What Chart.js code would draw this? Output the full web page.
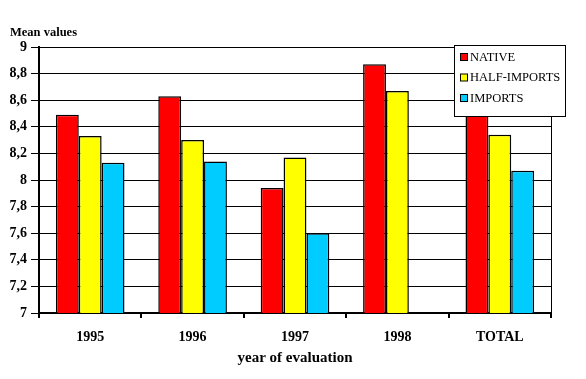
<!DOCTYPE html>
<html>
<head>
  <title></title>
  <script src="https://cdn.jsdelivr.net/npm/chart.js"></script>
  <style>
    html, body { margin: 0; padding: 0; background: #fff; }
    #wrap { width: 586px; height: 379px; }
  </style>
</head>
<body>
<div id="wrap"><canvas id="myChart" width="586" height="379"></canvas></div>
<script>
  const years = ['1995', '1996', '1997', '1998', 'TOTAL'];
  const native = [8.49, 8.63, 7.94, 8.87, 8.53];
  const halfImports = [8.33, 8.30, 8.17, 8.67, 8.34];
  const imports = [8.13, 8.14, 7.60, null, 8.07];
  const seriesNames = ['NATIVE', 'HALF-IMPORTS', 'IMPORTS'];
  const seriesColors = ['#ff0000', '#ffff00', '#00ccff'];

  const serif = '"Liberation Serif", "Times New Roman", serif';

  // legend box inside the plot + "Mean values" label + right frame line
  const extras = {
    id: 'extras',
    afterDraw(chart) {
      const ctx = chart.ctx;
      const area = chart.chartArea;
      ctx.save();
      ctx.strokeStyle = '#000';
      ctx.lineWidth = 1;
      ctx.beginPath();
      ctx.moveTo(area.right + 0.5, area.top);
      ctx.lineTo(area.right + 0.5, area.bottom);
      ctx.stroke();

      ctx.fillStyle = '#000';
      ctx.font = 'bold 12.5px ' + serif;
      ctx.textBaseline = 'middle';
      ctx.textAlign = 'left';
      ctx.fillText('Mean values', 10, 33);

      const bx = 454.5, by = 45.5, bw = 111, bh = 71;
      ctx.fillStyle = '#fff';
      ctx.fillRect(bx, by, bw, bh);
      ctx.strokeRect(bx, by, bw, bh);
      ctx.font = '12.5px ' + serif;
      chart.data.datasets.forEach((ds, i) => {
        const cy = 57 + i * 20.5;
        ctx.fillStyle = ds.backgroundColor;
        ctx.fillRect(460.5, cy - 3.5, 7, 7);
        ctx.strokeStyle = '#000';
        ctx.strokeRect(460.5, cy - 3.5, 7, 7);
        ctx.fillStyle = '#000';
        ctx.fillText(ds.label, 470, cy + 0.5);
      });
      ctx.restore();
    }
  };

  const ctx = document.getElementById('myChart').getContext('2d');
  new Chart(ctx, {
    type: 'bar',
    data: {
      labels: years,
      datasets: [native, halfImports, imports].map((vals, i) => ({
        label: seriesNames[i],
        data: vals,
        backgroundColor: seriesColors[i],
        borderColor: '#000',
        borderWidth: 1.5,
        categoryPercentage: 0.67,
        barPercentage: 1
      }))
    },
    options: {
      responsive: false,
      animation: false,
      layout: { padding: { top: 47, right: 35, bottom: 0, left: 0 } },
      plugins: {
        legend: { display: false },
        tooltip: { enabled: false }
      },
      scales: {
        x: {
          grid: {
            offset: true,
            drawOnChartArea: false,
            drawTicks: true,
            tickLength: 5,
            color: '#000',
            lineWidth: 2
          },
          border: { color: '#000', width: 2 },
          ticks: {
            color: '#000',
            padding: 11,
            font: { family: serif, size: 14, weight: 'bold' }
          },
          title: {
            display: true,
            text: 'year of evaluation',
            color: '#000',
            padding: { top: 4, bottom: 12 },
            font: { family: serif, size: 15, weight: 'bold' }
          },
          afterFit(scale) { scale.height = 66; }
        },
        y: {
          min: 7,
          max: 9,
          grid: {
            color: '#000',
            lineWidth: 1,
            tickLength: 8
          },
          border: { color: '#000', width: 2 },
          ticks: {
            stepSize: 0.2,
            color: '#000',
            padding: 4,
            font: { family: serif, size: 14, weight: 'bold' },
            callback: v => String(Math.round(v * 10) / 10).replace('.', ',')
          },
          afterFit(scale) { scale.width = 39; }
        }
      }
    },
    plugins: [extras]
  });
</script>
</body>
</html>
